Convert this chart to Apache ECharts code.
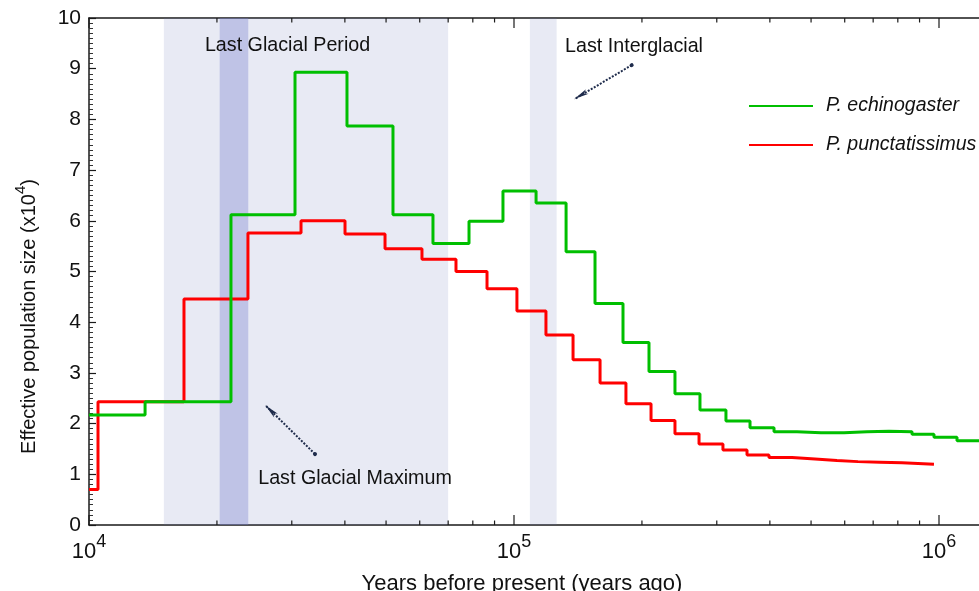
<!DOCTYPE html>
<html>
<head>
<meta charset="utf-8">
<script src="https://cdn.jsdelivr.net/npm/echarts@6/dist/echarts.min.js"></script>
<style>
  html, body { margin: 0; padding: 0; background: #fff; }
  #chart { width: 979px; height: 591px; }
</style>
</head>
<body>
<div id="chart"></div>
<script>
// PSMC effective population size histories (Ne in units of 10^4).
// Each value holds from its start time until the next start time.
const echinoStart = [10000, 13550, 21580, 30530, 40460, 51910, 64470, 78370, 94200, 112700,
  132600, 155100, 180500, 207800, 239200, 273900, 315300, 359200, 409100, 463400,
  527700, 597700, 677000, 762700, 864000, 973200, 1102500];
const echinoEnd = 1300000;
const echinoNe = [2.17, 2.43, 6.12, 8.93, 7.87, 6.12, 5.55, 5.99, 6.59, 6.35,
  5.39, 4.37, 3.60, 3.03, 2.59, 2.27, 2.05, 1.92, 1.84, 1.82,
  1.82, 1.84, 1.85, 1.84, 1.79, 1.73, 1.66];

const punctStart = [10000, 10500, 16730, 23660, 31540, 40030, 49720, 60740, 73030, 86400,
  101600, 118900, 137700, 159400, 183400, 210100, 239200, 272500, 310200, 353400,
  398100, 451000, 510800, 575400, 644700, 726400, 818400];
const punctEnd = 973200;
const punctNe = [0.70, 2.43, 4.46, 5.76, 6.00, 5.74, 5.45, 5.24, 5.00, 4.66,
  4.22, 3.75, 3.26, 2.80, 2.39, 2.06, 1.80, 1.60, 1.48, 1.38,
  1.33, 1.30, 1.27, 1.25, 1.24, 1.23, 1.20];

// Climate periods (years ago)
const glacialPeriod = [15000, 70000];
const glacialMaximum = [20300, 23700];
const interglacial = [109000, 126000];

// Log-axis tick positions
const majorTickYears = [10000, 100000, 1000000];
const minorTickYears = [20000, 30000, 40000, 50000, 60000, 70000, 80000, 90000,
  200000, 300000, 400000, 500000, 600000, 700000, 800000, 900000];

const xMin = 10000, xMax = 1242000;
const FONT = "'Liberation Sans', Arial, Helvetica, sans-serif";
const INK = '#111111';
const AXIS = '#1a1a1a';

function stepPoints(starts, end, values) {
  const pts = starts.map((t, i) => [t, values[i]]);
  pts.push([end, values[values.length - 1]]);
  return pts;
}

const tickData = majorTickYears.map(v => [v, 1]).concat(minorTickYears.map(v => [v, 0]));

// power-of-ten labels: raised exponent
const supRich = {
  base: { fontSize: 22, lineHeight: 22, verticalAlign: 'bottom', fontFamily: FONT, color: INK },
  sup: { fontSize: 18, lineHeight: 30, padding: [0, 0, 12, 0], verticalAlign: 'top', fontFamily: FONT, color: INK }
};

const chart = echarts.init(document.getElementById('chart'), null, { renderer: 'canvas' });

const logAxisBase = { type: 'log', logBase: 10, min: xMin, max: xMax, gridIndex: 0 };

chart.setOption({
  animation: false,
  backgroundColor: '#ffffff',
  textStyle: { fontFamily: FONT },
  grid: { left: 89, right: 0, top: 18, bottom: 66, containLabel: false, outerBoundsMode: 'none' },
  legend: {
    data: ['P. echinogaster', 'P. punctatissimus'],
    orient: 'vertical',
    left: 748,
    top: 96,
    padding: 0,
    itemWidth: 64,
    itemHeight: 20,
    itemGap: 19,
    selectedMode: false,
    itemStyle: { opacity: 0 },
    textStyle: { fontSize: 19.5, fontStyle: 'italic', color: INK, fontFamily: FONT, padding: [0, 0, 0, 8] }
  },
  xAxis: [
    Object.assign({}, logAxisBase, {
      position: 'bottom',
      name: 'Years before present (years ago)',
      nameLocation: 'middle',
      nameGap: 48,
      nameTextStyle: { fontSize: 22, color: INK, fontFamily: FONT, padding: [0, 24, 0, 0] },
      axisLine: { show: true, onZero: false, lineStyle: { color: AXIS, width: 1.5 } },
      axisTick: { show: false },
      splitLine: { show: false },
      minorTick: { show: false },
      axisLabel: {
        margin: 8,
        formatter: function (v) {
          const e = Math.log10(v);
          if (Math.abs(e - Math.round(e)) > 1e-6) return '';
          return '{base|10}{sup|' + Math.round(e) + '}';
        },
        rich: supRich
      }
    }),
    Object.assign({}, logAxisBase, {
      position: 'top',
      axisLine: { show: true, onZero: false, lineStyle: { color: AXIS, width: 1.5 } },
      axisTick: { show: false },
      axisLabel: { show: false },
      splitLine: { show: false }
    })
  ],
  yAxis: {
    type: 'value',
    min: 0,
    max: 10,
    interval: 1,
    name: '{base|Effective population size (x10}{sup|4}{base|)}',
    nameLocation: 'middle',
    nameRotate: 90,
    nameGap: 50,
    nameTextStyle: {
      padding: [0, 90, 0, 0],
      rich: {
        base: { fontSize: 20, lineHeight: 20, verticalAlign: 'bottom', fontFamily: FONT, color: INK },
        sup: { fontSize: 15, lineHeight: 26, padding: [0, 0, 11, 0], verticalAlign: 'top', fontFamily: FONT, color: INK }
      }
    },
    axisLine: { show: true, onZero: false, lineStyle: { color: AXIS, width: 1.5 } },
    axisTick: { show: true, inside: true, length: 7, lineStyle: { color: AXIS, width: 1.2 } },
    minorTick: { show: true, splitNumber: 10, length: 4, lineStyle: { color: '#333', width: 1 } },
    splitLine: { show: false },
    axisLabel: { margin: 8, fontSize: 21, color: INK, fontFamily: FONT }
  },
  series: [
    {
      name: 'P. punctatissimus',
      type: 'line',
      step: 'end',
      symbol: 'none',
      clip: true,
      z: 2,
      color: '#ff0000',
      lineStyle: { color: '#ff0000', width: 3 },
      data: stepPoints(punctStart, punctEnd, punctNe)
    },
    {
      name: 'P. echinogaster',
      type: 'line',
      step: 'end',
      symbol: 'none',
      clip: true,
      z: 3,
      color: '#00bf00',
      lineStyle: { color: '#00bf00', width: 3 },
      data: stepPoints(echinoStart, echinoEnd, echinoNe)
    },
    {
      // climate period shading
      name: 'periods',
      type: 'line',
      data: [],
      z: 4,
      silent: true,
      markArea: {
        silent: true,
        data: [
          [{ xAxis: glacialPeriod[0], itemStyle: { color: 'rgba(115,125,185,0.16)' } }, { xAxis: glacialPeriod[1] }],
          [{ xAxis: glacialMaximum[0], itemStyle: { color: 'rgba(115,123,204,0.35)' } }, { xAxis: glacialMaximum[1] }],
          [{ xAxis: interglacial[0], itemStyle: { color: 'rgba(115,125,185,0.16)' } }, { xAxis: interglacial[1] }]
        ]
      }
    },
    {
      // period labels and pointers
      name: 'notes',
      type: 'line',
      data: [],
      z: 6,
      silent: true,
      markLine: {
        silent: true,
        symbol: ['circle', 'arrow'],
        symbolSize: [4, 15],
        label: { show: false },
        lineStyle: { color: '#1f2c4c', width: 2, type: [2, 1.5] },
        emphasis: { disabled: true },
        data: [
          [{ coord: [34020, 1.40] }, { coord: [25990, 2.363] }],
          [{ coord: [189200, 9.07] }, { coord: [138700, 8.40] }]
        ]
      },
      markPoint: {
        silent: true,
        symbol: 'rect',
        symbolSize: 1,
        itemStyle: { color: 'rgba(0,0,0,0)' },
        label: { show: true, position: 'inside', fontSize: 19.7, color: INK, fontFamily: FONT },
        data: [
          { coord: [29320, 9.46], value: 'Last Glacial Period', label: { formatter: 'Last Glacial Period' } },
          { coord: [191600, 9.44], value: 'Last Interglacial', label: { formatter: 'Last Interglacial' } },
          { coord: [42260, 0.917], value: 'Last Glacial Maximum', label: { formatter: 'Last Glacial Maximum' } }
        ]
      }
    },
    {
      // inward ticks on bottom and top frame
      name: 'xticks',
      type: 'custom',
      z: 7,
      silent: true,
      clip: false,
      encode: { x: 0, y: 1 },
      data: tickData,
      renderItem: function (params, api) {
        const cs = params.coordSys;
        const x = api.coord([api.value(0), 0])[0];
        const len = api.value(1) ? 10 : 4.5;
        const st = { stroke: AXIS, lineWidth: 1.2 };
        const bottom = cs.y + cs.height;
        return {
          type: 'group',
          children: [
            { type: 'line', shape: { x1: x, y1: bottom, x2: x, y2: bottom - len }, style: st },
            { type: 'line', shape: { x1: x, y1: cs.y, x2: x, y2: cs.y + len }, style: st }
          ]
        };
      }
    }
  ]
});
</script>
</body>
</html>
